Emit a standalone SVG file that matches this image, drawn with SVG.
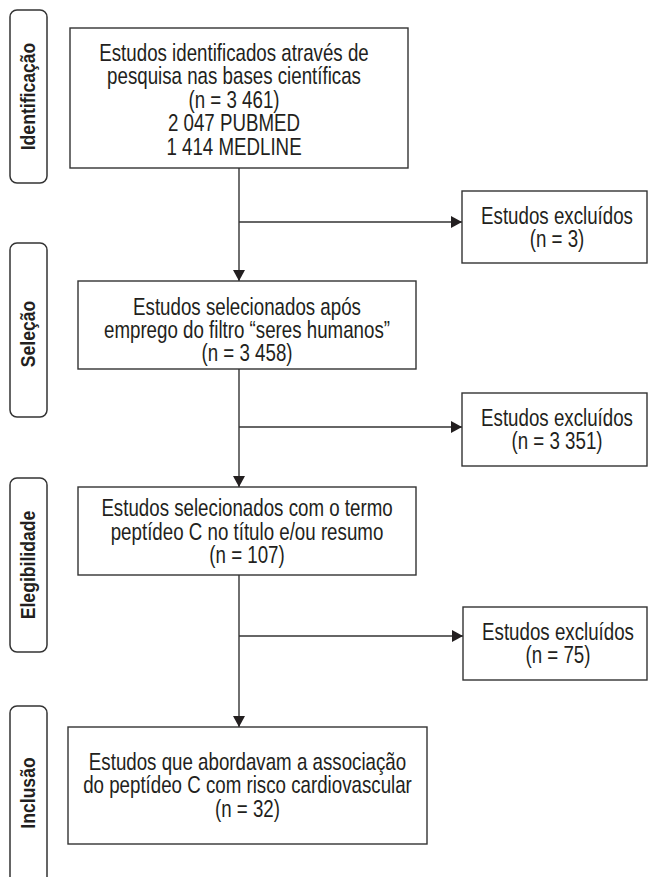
<svg xmlns="http://www.w3.org/2000/svg" width="649" height="877" viewBox="0 0 649 877">
<style>
  .box { fill: #fff; stroke: #333; stroke-width: 1.4; }
  .pill { fill: #fff; stroke: #333; stroke-width: 1.5; }
  .t { font-family: "Liberation Sans", Arial, sans-serif; font-size: 24px; fill: #231f20; text-anchor: middle; }
  .lab { font-family: "Liberation Sans", Arial, sans-serif; font-size: 20px; font-weight: bold; fill: #231f20; text-anchor: middle; }
  .c { fill: none; stroke: #333; stroke-width: 1.4; }
</style>
<defs>
  <marker id="ah" markerUnits="userSpaceOnUse" markerWidth="11" markerHeight="12" refX="11" refY="6" orient="auto">
    <path d="M0,0 L11,6 L0,12 z" fill="#231f20"/>
  </marker>
</defs>
<rect width="649" height="877" fill="#fff"/>

<g id="stage-identificacao">
  <rect class="pill" x="10" y="10" width="37" height="173" rx="7"/>
  <text class="lab" transform="translate(34.5,96.5) rotate(-90) scale(0.88,1)">Identificação</text>
</g>
<g id="stage-selecao">
  <rect class="pill" x="10" y="243" width="37" height="174" rx="7"/>
  <text class="lab" transform="translate(34.5,334) rotate(-90) scale(0.88,1)">Seleção</text>
</g>
<g id="stage-elegibilidade">
  <rect class="pill" x="10" y="478" width="37" height="174" rx="7"/>
  <text class="lab" transform="translate(34.5,565) rotate(-90) scale(0.88,1)">Elegibilidade</text>
</g>
<g id="stage-inclusao">
  <rect class="pill" x="10" y="706" width="37" height="190" rx="7"/>
  <text class="lab" transform="translate(34.5,793) rotate(-90) scale(0.88,1)">Inclusão</text>
</g>

<g id="connectors">
  <line class="c" x1="239" y1="168" x2="239" y2="281" marker-end="url(#ah)"/>
  <line class="c" x1="239" y1="222" x2="462" y2="222" marker-end="url(#ah)"/>
  <line class="c" x1="239" y1="369" x2="239" y2="487" marker-end="url(#ah)"/>
  <line class="c" x1="239" y1="427" x2="462" y2="427" marker-end="url(#ah)"/>
  <line class="c" x1="239" y1="575" x2="239" y2="727" marker-end="url(#ah)"/>
  <line class="c" x1="239" y1="636" x2="463" y2="636" marker-end="url(#ah)"/>
</g>

<g id="node-identificados">
  <rect class="box" x="70" y="28" width="338" height="140"/>
  <text class="t" transform="matrix(0.78 0 0 1 234 0)" x="0" y="61">Estudos identificados através de</text>
  <text class="t" transform="matrix(0.78 0 0 1 234 0)" x="0" y="84.5">pesquisa nas bases científicas</text>
  <text class="t" transform="matrix(0.78 0 0 1 234 0)" x="0" y="108">(n = 3 461)</text>
  <text class="t" transform="matrix(0.78 0 0 1 234 0)" x="0" y="131.5">2 047 PUBMED</text>
  <text class="t" transform="matrix(0.78 0 0 1 234 0)" x="0" y="155">1 414 MEDLINE</text>
</g>

<g id="node-excluidos-1">
  <rect class="box" x="462" y="191" width="185" height="72"/>
  <text class="t" transform="matrix(0.78 0 0 1 557 0)" x="0" y="224">Estudos excluídos</text>
  <text class="t" transform="matrix(0.78 0 0 1 557 0)" x="0" y="247.5">(n = 3)</text>
</g>

<g id="node-selecionados-filtro">
  <rect class="box" x="78" y="281" width="338" height="88"/>
  <text class="t" transform="matrix(0.78 0 0 1 247 0)" x="0" y="315">Estudos selecionados após</text>
  <text class="t" transform="matrix(0.78 0 0 1 247 0)" x="0" y="338">emprego do filtro “seres humanos”</text>
  <text class="t" transform="matrix(0.78 0 0 1 247 0)" x="0" y="361">(n = 3 458)</text>
</g>

<g id="node-excluidos-2">
  <rect class="box" x="462" y="393" width="185" height="73"/>
  <text class="t" transform="matrix(0.78 0 0 1 557 0)" x="0" y="426">Estudos excluídos</text>
  <text class="t" transform="matrix(0.78 0 0 1 557 0)" x="0" y="449.5">(n = 3 351)</text>
</g>

<g id="node-selecionados-termo">
  <rect class="box" x="78" y="487" width="338" height="88"/>
  <text class="t" transform="matrix(0.78 0 0 1 247 0)" x="0" y="516">Estudos selecionados com o termo</text>
  <text class="t" transform="matrix(0.78 0 0 1 247 0)" x="0" y="540">peptídeo C no título e/ou resumo</text>
  <text class="t" transform="matrix(0.78 0 0 1 247 0)" x="0" y="563">(n = 107)</text>
</g>

<g id="node-excluidos-3">
  <rect class="box" x="463" y="607" width="184" height="73"/>
  <text class="t" transform="matrix(0.78 0 0 1 558 0)" x="0" y="640">Estudos excluídos</text>
  <text class="t" transform="matrix(0.78 0 0 1 558 0)" x="0" y="663.5">(n = 75)</text>
</g>

<g id="node-incluidos">
  <rect class="box" x="68" y="727" width="359" height="117"/>
  <text class="t" transform="matrix(0.78 0 0 1 247.5 0)" x="0" y="770">Estudos que abordavam a associação</text>
  <text class="t" transform="matrix(0.78 0 0 1 247.5 0)" x="0" y="793">do peptídeo C com risco cardiovascular</text>
  <text class="t" transform="matrix(0.78 0 0 1 247.5 0)" x="0" y="817">(n = 32)</text>
</g>
</svg>
